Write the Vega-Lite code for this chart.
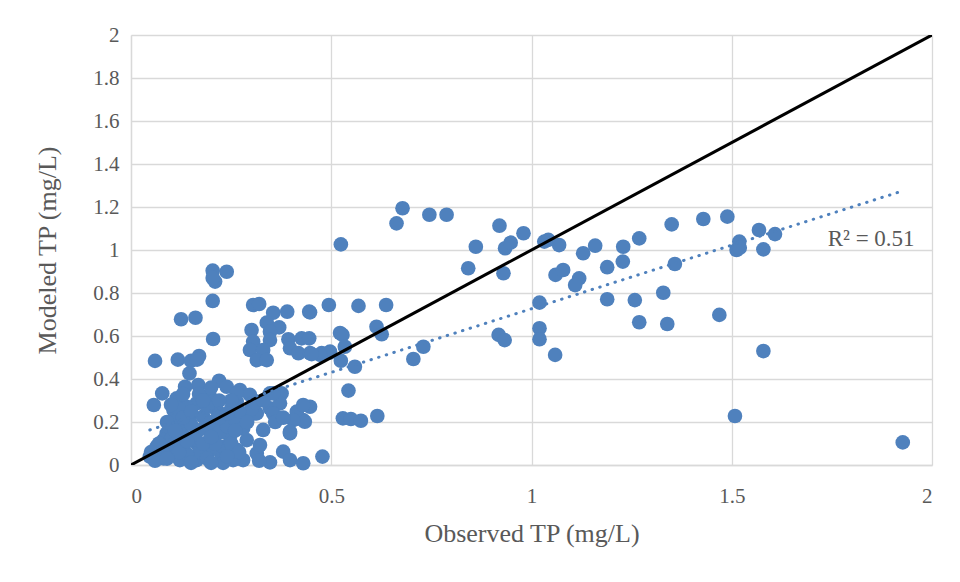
{
  "$schema": "https://vega.github.io/schema/vega-lite/v6.json",
  "width": 801,
  "height": 430,
  "autosize": "none",
  "padding": {"left": 131, "top": 35, "right": 28, "bottom": 117},
  "background": "white",
  "config": {
    "view": {"stroke": null},
    "font": "Liberation Serif",
    "axis": {"labelFont": "Liberation Serif", "titleFont": "Liberation Serif", "labelColor": "#595959", "titleColor": "#595959", "titleFontWeight": "normal", "gridColor": "#d9d9d9", "gridWidth": 1.3, "domainColor": "#d9d9d9", "domainWidth": 1.3, "ticks": false}
  },
  "datasets": {
    "pts": [
      {"o":0.204,"m":0.904},{"o":0.239,"m":0.899},{"o":0.21,"m":0.853},{"o":0.204,"m":0.87},{"o":0.204,"m":0.763},
      {"o":0.125,"m":0.678},{"o":0.161,"m":0.685},{"o":0.205,"m":0.586},{"o":0.06,"m":0.484},{"o":0.117,"m":0.49},
      {"o":0.15,"m":0.484},{"o":0.17,"m":0.507},{"o":0.165,"m":0.49},
      {"o":0.305,"m":0.744},{"o":0.32,"m":0.749},{"o":0.355,"m":0.708},{"o":0.39,"m":0.713},{"o":0.445,"m":0.713},
      {"o":0.494,"m":0.744},{"o":0.339,"m":0.662},{"o":0.37,"m":0.64},{"o":0.301,"m":0.628},{"o":0.347,"m":0.62},
      {"o":0.305,"m":0.574},{"o":0.347,"m":0.581},{"o":0.393,"m":0.585},{"o":0.426,"m":0.589},{"o":0.445,"m":0.589},
      {"o":0.297,"m":0.535},{"o":0.33,"m":0.535},{"o":0.397,"m":0.543},{"o":0.418,"m":0.52},{"o":0.447,"m":0.52},
      {"o":0.476,"m":0.52},{"o":0.497,"m":0.527},{"o":0.314,"m":0.488},{"o":0.339,"m":0.488},{"o":0.522,"m":0.614},
      {"o":0.524,"m":1.026},{"o":0.678,"m":1.194},{"o":0.663,"m":1.124},{"o":0.745,"m":1.164},{"o":0.788,"m":1.164},
      {"o":0.92,"m":1.113},{"o":0.98,"m":1.078},{"o":0.861,"m":1.015},{"o":0.934,"m":1.008},{"o":0.948,"m":1.034},
      {"o":0.842,"m":0.915},{"o":0.93,"m":0.892},{"o":1.032,"m":1.039},{"o":1.042,"m":1.047},{"o":1.069,"m":1.023},
      {"o":1.129,"m":0.985},{"o":1.159,"m":1.02},{"o":1.229,"m":1.015},{"o":1.269,"m":1.054},{"o":1.06,"m":0.884},
      {"o":1.079,"m":0.907},{"o":1.119,"m":0.868},{"o":1.109,"m":0.837},{"o":1.189,"m":0.92},{"o":1.228,"m":0.946},
      {"o":1.02,"m":0.755},{"o":1.189,"m":0.771},{"o":1.258,"m":0.767},{"o":1.269,"m":0.664},{"o":1.02,"m":0.636},
      {"o":1.02,"m":0.585},{"o":1.059,"m":0.512},{"o":0.918,"m":0.605},{"o":0.933,"m":0.581},{"o":0.73,"m":0.55},
      {"o":0.705,"m":0.493},{"o":0.637,"m":0.744},{"o":0.568,"m":0.74},{"o":0.447,"m":0.71},{"o":0.613,"m":0.643},
      {"o":0.626,"m":0.608},{"o":0.528,"m":0.605},{"o":0.534,"m":0.55},{"o":0.524,"m":0.485},{"o":0.559,"m":0.457},
      {"o":0.495,"m":0.522},{"o":0.472,"m":0.512},{"o":0.451,"m":0.516},{"o":0.543,"m":0.346},{"o":0.447,"m":0.271},
      {"o":0.43,"m":0.209},{"o":0.529,"m":0.217},{"o":0.549,"m":0.214},{"o":0.574,"m":0.206},{"o":0.615,"m":0.228},
      {"o":0.478,"m":0.039},{"o":0.43,"m":0.008},
      {"o":1.35,"m":1.119},{"o":1.429,"m":1.144},{"o":1.489,"m":1.155},{"o":1.568,"m":1.093},{"o":1.608,"m":1.074},
      {"o":1.519,"m":1.039},{"o":1.512,"m":1.0},{"o":1.52,"m":1.01},{"o":1.579,"m":1.003},{"o":1.358,"m":0.935},
      {"o":1.329,"m":0.801},{"o":1.339,"m":0.656},{"o":1.469,"m":0.698},{"o":1.579,"m":0.53},{"o":1.508,"m":0.228},
      {"o":1.927,"m":0.105},
      {"o":0.146,"m":0.426},{"o":0.22,"m":0.392},{"o":0.168,"m":0.372},{"o":0.135,"m":0.364},{"o":0.078,"m":0.333},
      {"o":0.057,"m":0.279},{"o":0.239,"m":0.364},{"o":0.272,"m":0.349},{"o":0.297,"m":0.326},{"o":0.376,"m":0.333},
      {"o":0.347,"m":0.333},{"o":0.197,"m":0.318},{"o":0.114,"m":0.31},{"o":0.106,"m":0.256},{"o":0.414,"m":0.248},
      {"o":0.434,"m":0.201},{"o":0.405,"m":0.209},{"o":0.33,"m":0.163},{"o":0.397,"m":0.147},{"o":0.289,"m":0.116},
      {"o":0.293,"m":0.225},{"o":0.255,"m":0.271},{"o":0.38,"m":0.062},{"o":0.397,"m":0.023},{"o":0.347,"m":0.012},
      {"o":0.28,"m":0.023},{"o":0.255,"m":0.023},{"o":0.226,"m":0.047},{"o":0.197,"m":0.07},{"o":0.164,"m":0.101},
      {"o":0.197,"m":0.116},{"o":0.131,"m":0.085},{"o":0.064,"m":0.085},{"o":0.047,"m":0.039},{"o":0.081,"m":0.031},
      {"o":0.122,"m":0.023},{"o":0.164,"m":0.023},{"o":0.097,"m":0.07},{"o":0.122,"m":0.178},{"o":0.147,"m":0.225},
      {"o":0.114,"m":0.209},{"o":0.18,"m":0.225},{"o":0.214,"m":0.256},{"o":0.164,"m":0.287},{"o":0.139,"m":0.271},
      {"o":0.23,"m":0.194},{"o":0.205,"m":0.155},{"o":0.164,"m":0.155},{"o":0.247,"m":0.132},{"o":0.314,"m":0.24},
      {"o":0.347,"m":0.264},{"o":0.372,"m":0.287},{"o":0.264,"m":0.295},{"o":0.089,"m":0.147},{"o":0.081,"m":0.116},
      {"o":0.23,"m":0.085},{"o":0.264,"m":0.07},{"o":0.314,"m":0.054},{"o":0.322,"m":0.093},{"o":0.397,"m":0.155},
      {"o":0.355,"m":0.333},{"o":0.264,"m":0.333},{"o":0.355,"m":0.24},{"o":0.43,"m":0.279},
      {"o":0.1,"m":0.12},{"o":0.13,"m":0.14},{"o":0.15,"m":0.19},{"o":0.18,"m":0.17},{"o":0.2,"m":0.2},
      {"o":0.22,"m":0.15},{"o":0.17,"m":0.06},{"o":0.14,"m":0.05},{"o":0.11,"m":0.1},{"o":0.19,"m":0.03},
      {"o":0.21,"m":0.1},{"o":0.24,"m":0.18},{"o":0.26,"m":0.21},{"o":0.28,"m":0.17},{"o":0.12,"m":0.26},
      {"o":0.17,"m":0.33},{"o":0.19,"m":0.27},{"o":0.08,"m":0.06},{"o":0.06,"m":0.02},{"o":0.23,"m":0.01},
      {"o":0.3,"m":0.26},{"o":0.27,"m":0.25},{"o":0.2,"m":0.36},{"o":0.25,"m":0.3},
      {"o":0.09,"m":0.2},{"o":0.1,"m":0.28},{"o":0.13,"m":0.22},{"o":0.15,"m":0.25},{"o":0.16,"m":0.12},
      {"o":0.18,"m":0.1},{"o":0.2,"m":0.13},{"o":0.22,"m":0.22},{"o":0.24,"m":0.24},{"o":0.25,"m":0.1},
      {"o":0.27,"m":0.06},{"o":0.12,"m":0.06},{"o":0.14,"m":0.11},{"o":0.07,"m":0.1},{"o":0.05,"m":0.06},
      {"o":0.09,"m":0.03},{"o":0.15,"m":0.01},{"o":0.2,"m":0.01},{"o":0.26,"m":0.16},{"o":0.18,"m":0.3},
      {"o":0.22,"m":0.3},{"o":0.13,"m":0.33},{"o":0.11,"m":0.16},{"o":0.29,"m":0.2},{"o":0.31,"m":0.29},
      {"o":0.33,"m":0.3},{"o":0.36,"m":0.2},{"o":0.38,"m":0.22},{"o":0.24,"m":0.04},{"o":0.32,"m":0.02}
    ],
    "oneToOne": [{"o":0,"m":0},{"o":2,"m":2}],
    "trend": [{"o":0.047,"m":0.163},{"o":1.927,"m":1.275}],
    "label": [{"o":1.848,"m":1.051,"t":"R² = 0.51"}]
  },
  "layer": [
    {
      "data": {"name": "pts"},
      "mark": {"type": "circle", "size": 215, "color": "#4f81bd", "opacity": 1},
      "encoding": {
        "x": {"field": "o", "type": "quantitative", "scale": {"domain": [0, 2], "nice": false, "zero": true},
              "axis": {"values": [0, 0.5, 1, 1.5, 2], "format": "~g", "title": "Observed TP (mg/L)", "labelFontSize": 21, "titleFontSize": 26, "labelPadding": 20, "titlePadding": 14, "grid": true}},
        "y": {"field": "m", "type": "quantitative", "scale": {"domain": [0, 2], "nice": false},
              "axis": {"values": [0, 0.2, 0.4, 0.6, 0.8, 1, 1.2, 1.4, 1.6, 1.8, 2], "format": "~g", "title": "Modeled TP (mg/L)", "labelFontSize": 21, "titleFontSize": 26, "labelPadding": 12, "titlePadding": 32, "grid": true}}
      }
    },
    {
      "data": {"name": "oneToOne"},
      "mark": {"type": "line", "color": "black", "strokeWidth": 3, "clip": true},
      "encoding": {"x": {"field": "o", "type": "quantitative"}, "y": {"field": "m", "type": "quantitative"}}
    },
    {
      "data": {"name": "trend"},
      "mark": {"type": "line", "color": "#4f81bd", "strokeWidth": 3, "strokeDash": [0.5, 7.5], "strokeCap": "round"},
      "encoding": {"x": {"field": "o", "type": "quantitative"}, "y": {"field": "m", "type": "quantitative"}}
    },
    {
      "data": {"name": "label"},
      "mark": {"type": "text", "font": "Liberation Serif", "fontSize": 23, "color": "#595959", "align": "center", "baseline": "middle"},
      "encoding": {"x": {"field": "o", "type": "quantitative"}, "y": {"field": "m", "type": "quantitative"}, "text": {"field": "t"}}
    }
  ]
}
